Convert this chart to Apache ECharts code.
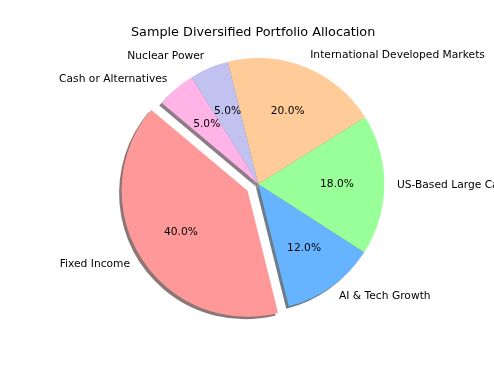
<!DOCTYPE html>
<html>
<head>
<meta charset="utf-8">
<script src="https://cdn.jsdelivr.net/npm/echarts@6/dist/echarts.min.js"></script>
<style>
html,body{margin:0;padding:0;background:#fff;}
#chart{width:494px;height:371px;}
</style>
</head>
<body>
<div id="chart"></div>
<script>
const titleText = 'Sample Diversified Portfolio Allocation';
const categories = ['Fixed Income', 'AI & Tech Growth', 'US-Based Large Cap', 'International Developed Markets', 'Nuclear Power', 'Cash or Alternatives'];
const values = [40, 12, 18, 20, 5, 5];
const exploded = [true, false, false, false, false, false];

const colors = ['#ff9999', '#66b3ff', '#99ff99', '#ffcc99', '#c2c2f0', '#ffb3e6'];
function shade(hex) {
  const n = parseInt(hex.slice(1), 16);
  const r = (n >> 16) & 255, g = (n >> 8) & 255, b = n & 255;
  const f = c => Math.round(0.65 * 0.3 * c + 0.35 * 255);
  return 'rgb(' + f(r) + ',' + f(g) + ',' + f(b) + ')';
}

const cx = 258.3, cy = 184, R = 126;
const off = 0.1 * R;
const font = 'DejaVu Sans';

function makeData(colorFn) {
  return categories.map((c, i) => ({
    name: c,
    value: values[i],
    selected: exploded[i],
    itemStyle: { color: colorFn(i) }
  }));
}

const common = {
  type: 'pie',
  startAngle: 140,
  clockwise: false,
  selectedMode: 'multiple',
  selectedOffset: off,
  avoidLabelOverlap: false,
  animation: false,
  emphasis: { disabled: true },
  select: { disabled: false, itemStyle: {} },
  labelLine: { show: false },
  minAngle: 0
};

const chart = echarts.init(document.getElementById('chart'), null, { renderer: 'canvas' });
chart.setOption({
  backgroundColor: '#ffffff',
  animation: false,
  title: {
    text: titleText,
    left: 131,
    top: 26,
    padding: 0,
    textStyle: { fontFamily: font, fontSize: 12.8, fontWeight: 'normal', color: '#000' }
  },
  series: [
    Object.assign({}, common, {
      name: 'shadow',
      silent: true,
      center: [cx - 0.02 * R, cy + 0.02 * R],
      radius: [0, R],
      data: makeData(i => shade(colors[i])),
      itemStyle: { borderWidth: 0 },
      label: { show: false }
    }),
    Object.assign({}, common, {
      name: 'main',
      center: [cx, cy],
      radius: [0, R],
      data: makeData(i => colors[i]),
      itemStyle: { borderWidth: 0 },
      labelLine: { show: false, length: 0.1 * R, length2: 0 },
      label: {
        show: true,
        position: 'outside',
        distanceToLabelLine: 0,
        bleedMargin: 0,
        overflow: 'none',
        fontFamily: font,
        fontSize: 10.7,
        color: '#000',
        formatter: p => p.name
      }
    }),
    Object.assign({}, common, {
      name: 'pct',
      silent: true,
      center: [cx, cy],
      radius: [0, 1.2 * R],
      data: makeData(() => 'rgba(0,0,0,0)'),
      itemStyle: { borderWidth: 0 },
      label: {
        show: true,
        position: 'inside',
        fontFamily: font,
        fontSize: 10.7,
        color: '#000',
        formatter: p => p.percent.toFixed(1) + '%'
      }
    })
  ]
});
</script>
</body>
</html>
